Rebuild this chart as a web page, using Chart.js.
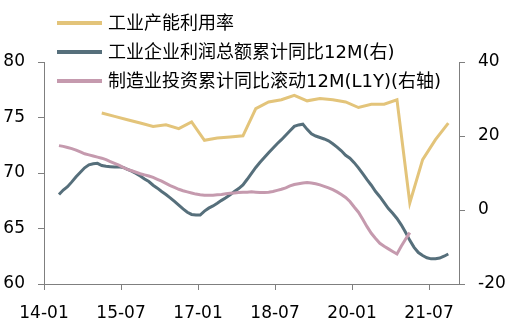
<!DOCTYPE html>
<html>
<head>
<meta charset="utf-8">
<script src="https://cdn.jsdelivr.net/npm/chart.js@4.4.1/dist/chart.umd.min.js"></script>
<style>
  html, body { margin: 0; padding: 0; background: #fff; }
  canvas { display: block; }
</style>
</head>
<body>
<canvas id="myChart" width="512" height="326"></canvas>
<script>
// monthly categories 2014-01 .. 2022-01
const months = [];
for (let y = 2014; y <= 2022; y++) {
  for (let m = 1; m <= 12; m++) {
    if (y === 2022 && m > 1) break;
    months.push(String(y).slice(2) + '-' + String(m).padStart(2, '0'));
  }
}

const tickLabels = ['14-01', '15-07', '17-01', '18-07', '20-01', '21-07'];

// 工业产能利用率 (left axis), quarterly, first point at 15-02
const capacityStart = '15-02';
const capacityUtil = [75.4, 75.1, 74.8, 74.5, 74.2, 74.35, 74.0, 74.6, 72.95, 73.15,
  73.25, 73.35, 75.8, 76.4, 76.6, 77.0, 76.5, 76.7, 76.6, 76.4,
  75.9, 76.2, 76.2, 76.6, 67.3, 71.2, 73.0, 74.5];

// 工业企业利润总额累计同比12M (right axis), monthly from 14-04
const profitStart = '14-04';
const profitYoY = [4.2, 5.4, 6.3, 7.6, 9.0, 10.2, 11.4, 12.2, 12.5, 12.6,
  12.0, 11.8, 11.7, 11.6, 11.7, 11.5, 11.0, 10.5, 9.9, 9.2,
  8.4, 7.7, 6.7, 5.9, 5.0, 4.2, 3.3, 2.3, 1.3, 0.3,
  -0.6, -1.2, -1.35, -1.35, -0.3, 0.5, 1.1, 1.8, 2.6, 3.3,
  4.1, 5.0, 5.8, 6.8, 8.3, 9.9, 11.5, 12.9, 14.2, 15.5,
  16.7, 17.9, 19.0, 20.2, 21.4, 22.6, 23.0, 23.2, 21.8, 20.6,
  20.0, 19.6, 19.2, 18.7, 17.9, 17.0, 16.0, 14.8, 14.0, 12.8,
  11.4, 9.8, 8.2, 6.7, 5.0, 3.6, 2.0, 0.4, -0.9, -2.3,
  -4.0, -6.0, -8.2, -10.1, -11.5, -12.3, -12.9, -13.2, -13.2, -13.0,
  -12.5, -11.9];

// 制造业投资累计同比滚动12M(L1Y) (right axis), monthly from 14-04
const investStart = '14-04';
const mfgInvest = [17.4, 17.2, 16.9, 16.6, 16.2, 15.7, 15.2, 14.9, 14.6, 14.3,
  14.0, 13.6, 13.1, 12.6, 12.1, 11.5, 11.0, 10.6, 10.2, 9.8,
  9.5, 9.2, 8.8, 8.3, 7.8, 7.2, 6.6, 6.1, 5.6, 5.2,
  4.9, 4.6, 4.3, 4.1, 4.0, 4.0, 4.0, 4.1, 4.2, 4.4,
  4.5, 4.6, 4.7, 4.8, 4.8, 4.9, 4.8, 4.7, 4.7, 4.8,
  5.0, 5.3, 5.6, 6.0, 6.5, 6.9, 7.1, 7.3, 7.4, 7.3,
  7.1, 6.8, 6.4, 6.0, 5.5, 4.9, 4.2, 3.4, 2.3, 0.8,
  -0.6, -2.5, -4.5, -6.3, -7.7, -9.0, -9.8, -10.5, -11.2, -11.9,
  -9.8, -7.9, -6.1];

const tickMonths = tickLabels.map(l => months.indexOf(l));

function toPoints(start, values, step) {
  const s = months.indexOf(start);
  return values.map((v, i) => ({ x: s + i * step + 0.5, y: v }));
}

const legendPlugin = {
  id: 'sideLegend',
  afterDraw(chart) {
    const ctx = chart.ctx;
    const items = chart.data.datasets;
    ctx.save();
    items.forEach((ds, i) => {
      const y = 23 + 29 * i;
      ctx.strokeStyle = ds.borderColor;
      ctx.lineWidth = 4;
      ctx.beginPath();
      ctx.moveTo(57, y);
      ctx.lineTo(102, y);
      ctx.stroke();
      ctx.fillStyle = '#000';
      ctx.font = "18px 'DejaVu Sans', 'Noto Sans CJK SC'";
      ctx.textBaseline = 'middle';
      ctx.fillText(ds.label, 108, y + 1);
    });
    ctx.restore();
  }
};

const axisColor = '#7f7f7f';
const tickFont = { family: "'DejaVu Sans', 'Noto Sans CJK SC'", size: 17 };

new Chart(document.getElementById('myChart'), {
  type: 'line',
  data: {
    datasets: [
      {
        label: '工业产能利用率',
        data: toPoints(capacityStart, capacityUtil, 3),
        borderColor: '#e3c47a',
        yAxisID: 'y',
        order: 1
      },
      {
        label: '工业企业利润总额累计同比12M(右)',
        data: toPoints(profitStart, profitYoY, 1),
        borderColor: '#566f7b',
        yAxisID: 'y2',
        order: 2
      },
      {
        label: '制造业投资累计同比滚动12M(L1Y)(右轴)',
        data: toPoints(investStart, mfgInvest, 1),
        borderColor: '#c59aae',
        yAxisID: 'y2',
        order: 1
      }
    ]
  },
  options: {
    responsive: false,
    animation: false,
    layout: { padding: { top: 62, left: 0, right: 0, bottom: 0 } },
    elements: {
      line: { borderWidth: 3, tension: 0, fill: false },
      point: { radius: 0 }
    },
    plugins: {
      legend: { display: false },
      tooltip: { enabled: false }
    },
    scales: {
      x: {
        type: 'linear',
        position: 'bottom',
        min: 0,
        max: months.length,
        afterBuildTicks: (s) => { s.ticks = tickMonths.map(v => ({ value: v })); },
        afterFit: (s) => { s.height = 42; },
        ticks: {
          callback: (v) => tickLabels[tickMonths.indexOf(v)],
          color: '#000',
          font: tickFont,
          maxRotation: 0,
          autoSkip: false,
          padding: 13
        },
        grid: { drawOnChartArea: false, drawTicks: true, tickLength: 6, color: axisColor },
        border: { color: axisColor, width: 1 }
      },
      y: {
        position: 'left',
        min: 60,
        max: 80,
        afterFit: (s) => { s.width = 44; },
        ticks: { stepSize: 5, color: '#000', font: tickFont, padding: 13 },
        grid: { drawOnChartArea: false, drawTicks: true, tickLength: 6, color: axisColor },
        border: { color: axisColor, width: 1 }
      },
      y2: {
        position: 'right',
        min: -20,
        max: 40,
        afterFit: (s) => { s.width = 53; },
        ticks: { stepSize: 20, color: '#000', font: tickFont, padding: 13 },
        grid: { drawOnChartArea: false, drawTicks: true, tickLength: 6, color: axisColor },
        border: { color: axisColor, width: 1 }
      }
    }
  },
  plugins: [legendPlugin]
});
</script>
</body>
</html>
